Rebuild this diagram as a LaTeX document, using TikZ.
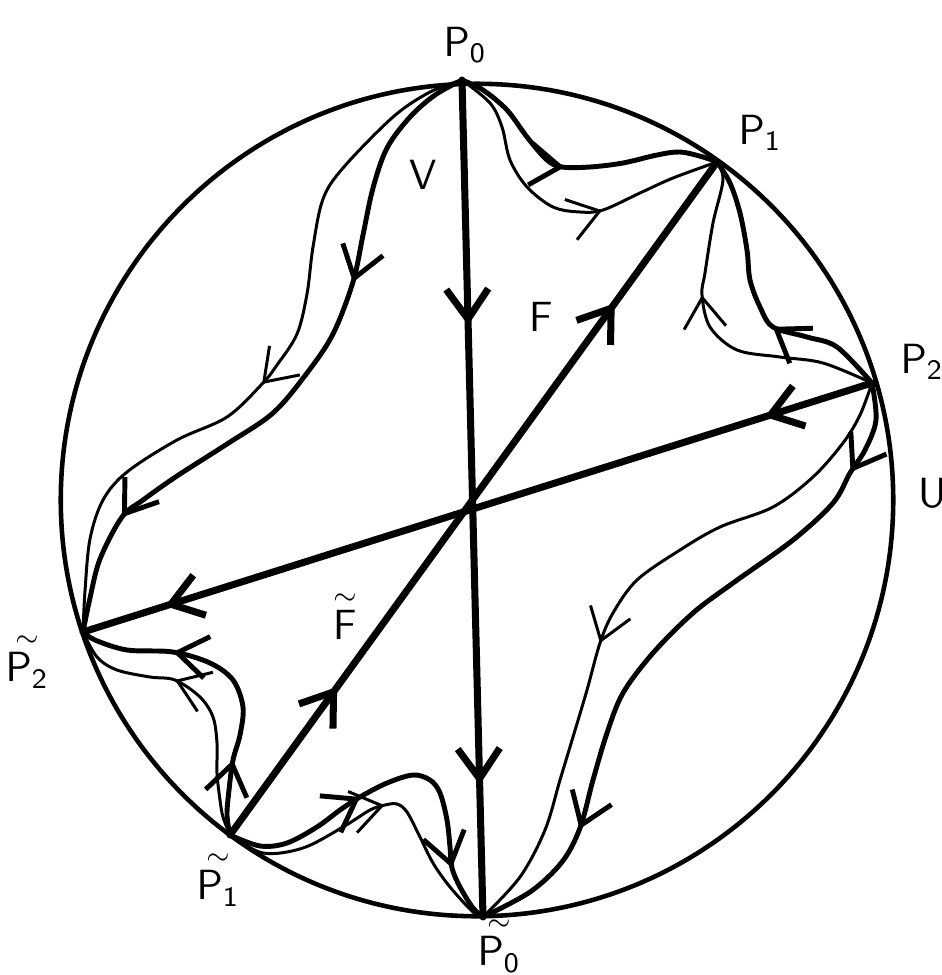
\documentclass[tikz,border=0pt]{standalone}
\usepackage{tikz}
\usetikzlibrary{arrows.meta,decorations.markings}

\begin{document}
\begin{tikzpicture}[
  x=0.01cm, y=-0.01cm,
  font=\sffamily\large,
  line cap=round, line join=round,
  rim/.style={line width=1.3pt},
  chord/.style={line width=2pt},
  wave/.style={line width=1.4pt},
  thinwave/.style={line width=0.85pt},
  flow at/.style={postaction={decorate, decoration={markings,
    mark=at position #1 with {\arrow{Straight Barb[length=3mm,width=4.2mm]}}}}},
  lbl/.style={inner sep=0pt},
  tlbl/.style={inner sep=0pt, align=center}
]
\useasboundingbox (0,0) rectangle (942,975);

% points on the rim
\coordinate (C) at (477,500);
\coordinate (P0) at (462,80);
\coordinate (P1) at (717,162);
\coordinate (P2) at (872,383);
\coordinate (tP0) at (483,917);
\coordinate (tP1) at (230,835);
\coordinate (tP2) at (83,632);

\draw[rim] (C) circle[radius=4.16cm];

% chords through the middle
\draw[chord, flow at=0.293, flow at=0.842] (P0) -- (tP0);
\draw[chord, flow at=0.22, flow at=0.79] (tP1) -- (P1);
\draw[chord, flow at=0.136, flow at=0.896] (P2) -- (tP2);

% P0 to P1
\draw[wave, flow at=0.47] plot[smooth, tension=0.55] coordinates {(P0) (483,90) (507,110) (527,137) (547,160) (562,167) (590,167) (623,163) (657,155) (680,152) (703,157) (P1)};
\draw[thinwave, flow at=0.63] plot[smooth, tension=0.55] coordinates {(P0) (490,103) (502,127) (510,160) (527,187) (553,207) (580,212) (603,210) (640,193) (673,178) (P1)};

% P2 to P1
\draw[wave, flow at=0.40] plot[smooth, tension=0.55] coordinates {(P2) (837,347) (807,337) (773,327) (760,307) (750,280) (747,250) (740,213) (730,183) (P1)};
\draw[thinwave, flow at=0.605] plot[smooth, tension=0.55] coordinates {(P2) (823,363) (780,357) (737,350) (710,327) (702,295) (705,273) (713,223) (723,180) (P1)};

% P2 to tP0
\draw[wave, flow at=0.138, flow at=0.806] plot[smooth, tension=0.55] coordinates {(P2) (876,420) (865,450) (850,473) (833,503) (793,540) (733,583) (693,613) (653,653) (623,693) (607,733) (593,780) (580,828) (562,862) (530,892) (tP0)};
\draw[thinwave, flow at=0.564] plot[smooth, tension=0.55] coordinates {(P2) (860,415) (843,443) (813,477) (773,507) (720,527) (680,550) (637,580) (613,613) (600,643) (587,690) (573,737) (560,780) (545,830) (520,877) (tP0)};

% P0 to tP2
\draw[thinwave, flow at=0.536] plot[smooth, tension=0.55] coordinates {(P0) (430,92) (393,117) (343,168) (323,199) (313,247) (307,294) (297,334) (277,365) (262,384) (227,417) (177,440) (127,472) (103,500) (90,539) (85,591) (tP2)};
\draw[wave, flow at=0.344, flow at=0.826] plot[smooth, tension=0.55] coordinates {(P0) (435,95) (410,117) (387,148) (373,188) (363,235) (353,282) (333,334) (307,373) (273,413) (227,444) (177,476) (143,500) (122,517) (100,559) (90,598) (tP2)};

% tP1 to tP2
\draw[wave, flow at=0.236, flow at=0.706] plot[smooth, tension=0.55] coordinates {(tP1) (227,815) (229,790) (233,760) (240,735) (243,707) (233,680) (210,663) (173,652) (127,650) (95,640) (tP2)};
\draw[thinwave, flow at=0.61] plot[smooth, tension=0.55] coordinates {(tP1) (223,817) (220,800) (217,773) (217,743) (213,717) (200,697) (175,680) (150,677) (117,670) (97,657) (tP2)};

% tP1 to tP0
\draw[wave, flow at=0.391, flow at=0.842] plot[smooth, tension=0.55] coordinates {(tP1) (260,846) (287,843) (317,827) (340,810) (360,797) (387,783) (413,775) (430,780) (440,793) (447,820) (450,847) (452,868) (460,887) (473,908) (tP0)};
\draw[thinwave, flow at=0.52] plot[smooth, tension=0.55] coordinates {(tP1) (263,853) (303,848) (343,827) (370,810) (385,805) (397,804) (407,812) (420,837) (433,863) (450,887) (473,912) (tP0)};

% labels
\node[lbl] (lP0) at (465,45) {$\mathsf{P}_{\mathsf{0}}$};
\node[lbl] (lP1) at (760,133) {$\mathsf{P}_{\mathsf{1}}$};
\node[lbl] (lP2) at (922,362) {$\mathsf{P}_{\mathsf{2}}$};
\node[tlbl] (ltP2) at (27,662) {{\footnotesize$\sim$}\\[-4pt]$\mathsf{P}_{\mathsf{2}}$};
\node[tlbl] (ltP1) at (218,880) {{\footnotesize$\sim$}\\[-4pt]$\mathsf{P}_{\mathsf{1}}$};
\node[tlbl] (ltP0) at (499,946) {{\footnotesize$\sim$}\\[-4pt]$\mathsf{P}_{\mathsf{0}}$};
\node[lbl] (lU) at (933,493) {U};
\node[lbl] (lV) at (423,175) {V};
\node[lbl] (lF) at (541,317) {F};
\node[tlbl] (ltF) at (345,617) {{\footnotesize$\sim$}\\[-4pt]F};
\end{tikzpicture}
\end{document}
